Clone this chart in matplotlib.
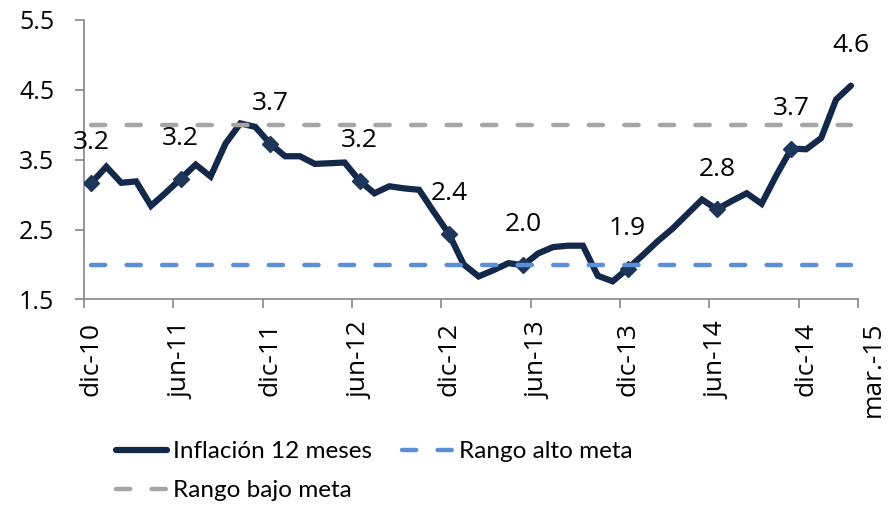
import numpy as np
import matplotlib
matplotlib.use("Agg")
import matplotlib.pyplot as plt

# monthly 12-month inflation, dic-10 .. mar-15
inflacion = [3.17, 3.40, 3.17, 3.19, 2.84, 3.03, 3.23, 3.43, 3.26, 3.73,
             4.02, 3.97, 3.73, 3.55, 3.55, 3.44, 3.45, 3.46, 3.20, 3.02,
             3.12, 3.09, 3.07, 2.75, 2.44, 2.00, 1.83, 1.92, 2.02, 1.99,
             2.16, 2.25, 2.27, 2.27, 1.84, 1.76, 1.94, 2.13, 2.33, 2.51,
             2.72, 2.93, 2.79, 2.91, 3.02, 2.87, 3.28, 3.66, 3.65, 3.81,
             4.36, 4.56]
rango_alto = 2.0
rango_bajo = 4.0

marker_idx = [0, 6, 12, 18, 24, 29, 36, 42, 47]
label_idx = [0, 6, 12, 18, 24, 29, 36, 42, 47, 51]

tick_labels = ["dic-10", "jun-11", "dic-11", "jun-12", "dic-12",
               "jun-13", "dic-13", "jun-14", "dic-14", "mar.-15"]
tick_pos = [0, 6, 12, 18, 24, 30, 36, 42, 48, 52.5]

NAVY = "#14284a"
BLUE = "#5b8fd8"
GRAY = "#a6a6a6"
AXIS = "#868686"
FONT = ["Open Sans", "DejaVu Sans"]
LEG_FONT = ["Lato", "DejaVu Sans"]

x = np.arange(len(inflacion))
y = np.array(inflacion)

fig = plt.figure(figsize=(8.88, 5.07), dpi=100)
ax = fig.add_axes([0.0946, 0.4093, 0.8905, 0.5513])

l_inf, = ax.plot(x, y, color=NAVY, lw=4.5, solid_joinstyle="miter",
                 solid_capstyle="round", zorder=3, label="Inflación 12 meses")
ax.plot(x[marker_idx], y[marker_idx], ls="none", marker="D", ms=8,
        color="#1d3659", mec="#1d3659", zorder=4)

dash = (0, (3.2, 4.8))
l_alto, = ax.plot(x, np.full(len(x), rango_alto), color=BLUE, lw=3.2,
                  ls=dash, dash_capstyle="round", zorder=5,
                  label="Rango alto meta")
l_bajo, = ax.plot(x, np.full(len(x), rango_bajo), color=GRAY, lw=3.2,
                  ls=dash, dash_capstyle="round", zorder=5,
                  label="Rango bajo meta")

for i in label_idx:
    ax.annotate(f"{inflacion[i]:.1f}", (x[i], y[i]), xytext=(0, 29),
                textcoords="offset points", ha="center", va="center",
                fontsize=19, family=FONT, color="black", zorder=6)

ax.set_ylim(1.5, 5.5)
ax.set_yticks([1.5, 2.5, 3.5, 4.5, 5.5])
ax.set_yticklabels(["1.5", "2.5", "3.5", "4.5", "5.5"], family=FONT,
                   fontsize=18)

ax.set_xlim(-0.5, 52.6)
ax.spines["bottom"].set_bounds(-0.5, 51.5)
ax.set_xticks(np.arange(-0.5, 52, 6).tolist() + [51.5])
ax.set_xticklabels([])
ax.set_xticks(tick_pos, minor=True)
ax.set_xticklabels(tick_labels, minor=True, rotation=90, family=FONT,
                   fontsize=19, va="top", ha="center")

for side in ["top", "right"]:
    ax.spines[side].set_visible(False)
for side in ["left", "bottom"]:
    ax.spines[side].set_color(AXIS)
    ax.spines[side].set_linewidth(1.2)
ax.tick_params(axis="both", which="major", direction="out", length=6.5,
               width=1.2, color=AXIS)
ax.tick_params(axis="y", pad=15)
ax.tick_params(axis="x", which="minor", length=0, pad=16)

fig.legend([l_inf, l_bajo, l_alto],
           ["Inflación 12 meses", "Rango bajo meta", "Rango alto meta"],
           ncol=2, loc="upper left", bbox_to_anchor=(0.131, 0.13),
           frameon=False, borderpad=0, borderaxespad=0, handlelength=2.1,
           handletextpad=0.25, columnspacing=1.2, labelspacing=0.75,
           prop={"family": LEG_FONT, "size": 17.5})

fig.savefig("out.png", dpi=100)
